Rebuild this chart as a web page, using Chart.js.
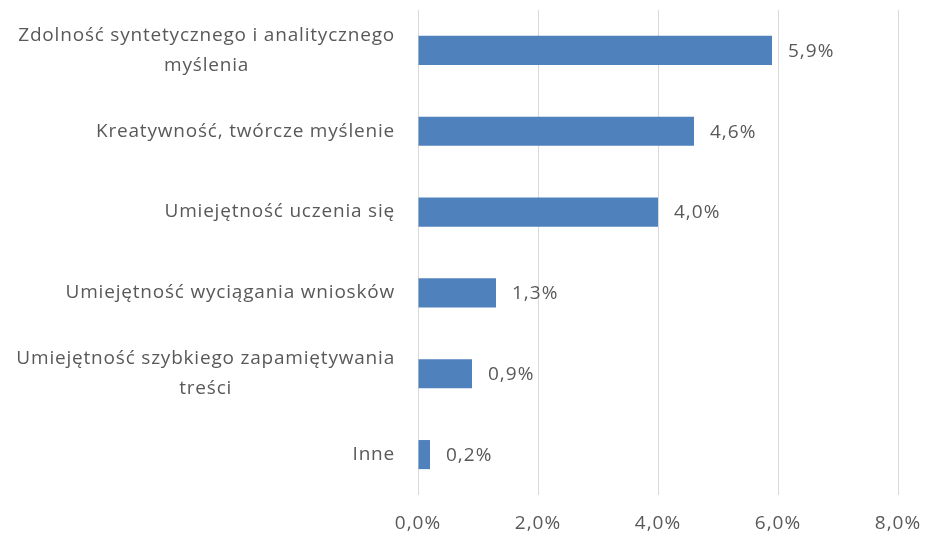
<!DOCTYPE html>
<html>
<head>
<meta charset="utf-8">
<script src="https://cdn.jsdelivr.net/npm/chart.js@4.4.0/dist/chart.umd.min.js"></script>
<style>
  html, body { margin: 0; padding: 0; background: #fff; }
  #wrap { width: 927px; height: 537px; }
</style>
</head>
<body>
<div id="wrap"><canvas id="skillsChart"></canvas></div>
<script>
// categories (multi-line labels as arrays)
const categories = [
    ['Zdolność syntetycznego i analitycznego', 'myślenia'],
    'Kreatywność, twórcze myślenie',
    'Umiejętność uczenia się',
    'Umiejętność wyciągania wniosków',
    ['Umiejętność szybkiego zapamiętywania', 'treści'],
    'Inne'
];
const values = [5.9, 4.6, 4.0, 1.3, 0.9, 0.2];
const xTicks = [0, 2, 4, 6, 8];

const FONT = '"Open Sans", sans-serif';
const TEXT_COLOR = '#595959';

function fmt(v) {
    return v.toFixed(1).replace('.', ',') + '%';
}

// slightly looser letter spacing for all text (set before anything is drawn)
const spacing = {
    id: 'spacing',
    beforeDraw(chart) {
        chart.ctx.letterSpacing = '1px';
    }
};

// draws category labels: block right-aligned, lines centered inside block
const categoryLabels = {
    id: 'categoryLabels',
    afterDraw(chart) {
        const ctx = chart.ctx;
        const yScale = chart.scales.y;
        ctx.save();
        ctx.font = '19px ' + FONT;
        ctx.letterSpacing = '0.8px';
        ctx.fillStyle = TEXT_COLOR;
        ctx.textAlign = 'center';
        ctx.textBaseline = 'middle';
        const right = 395;
        const lineH = 30;
        categories.forEach((lab, i) => {
            const lines = Array.isArray(lab) ? lab : [lab];
            const blockW = Math.max(...lines.map(l => ctx.measureText(l).width));
            const cx = right - blockW / 2;
            const yc = yScale.getPixelForValue(i);
            const y0 = yc - (lines.length - 1) * lineH / 2;
            lines.forEach((l, k) => ctx.fillText(l, cx, y0 + k * lineH));
        });
        ctx.restore();
    }
};

// value labels right of each bar
const valueLabels = {
    id: 'valueLabels',
    afterDatasetsDraw(chart) {
        const ctx = chart.ctx;
        const meta = chart.getDatasetMeta(0);
        ctx.save();
        ctx.font = '19px ' + FONT;
        ctx.letterSpacing = '1px';
        ctx.fillStyle = TEXT_COLOR;
        ctx.textAlign = 'left';
        ctx.textBaseline = 'middle';
        meta.data.forEach((bar, i) => {
            ctx.fillText(fmt(values[i]), bar.x + 16, bar.y + 1);
        });
        ctx.restore();
    }
};

const ctx = document.getElementById('skillsChart').getContext('2d');
new Chart(ctx, {
    type: 'bar',
    data: {
        labels: categories,
        datasets: [{
            data: values,
            backgroundColor: '#4F81BD',
            categoryPercentage: 1,
            barPercentage: 0.36
        }]
    },
    options: {
        indexAxis: 'y',
        responsive: true,
        maintainAspectRatio: false,
        animation: false,
        layout: { padding: { top: 10, right: 29, bottom: 0, left: 0 } },
        plugins: {
            legend: { display: false },
            tooltip: { enabled: false }
        },
        scales: {
            x: {
                min: 0,
                max: 8,
                afterBuildTicks: axis => { axis.ticks = xTicks.map(v => ({ value: v })); },
                afterFit: s => { s.height = 42; s.paddingRight = 0; s.paddingLeft = 0; },
                grid: { color: '#D9D9D9', lineWidth: 1, drawTicks: false },
                border: { display: false },
                ticks: {
                    padding: 17,
                    color: TEXT_COLOR,
                    font: { family: FONT, size: 19 },
                    maxRotation: 0,
                    callback: v => fmt(v)
                }
            },
            y: {
                grid: { display: false },
                border: { display: false },
                ticks: { display: false },
                afterFit: s => { s.width = 418; }
            }
        }
    },
    plugins: [spacing, categoryLabels, valueLabels]
});
</script>
</body>
</html>
